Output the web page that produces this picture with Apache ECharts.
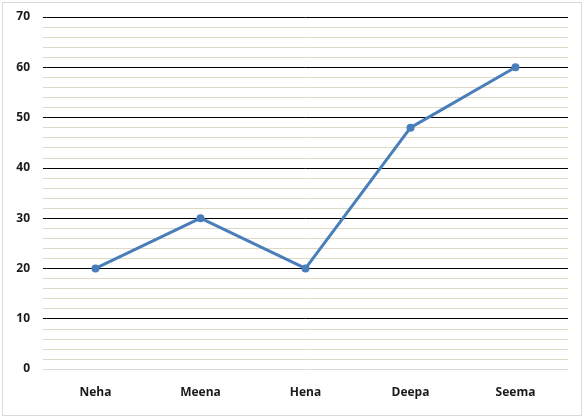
<!DOCTYPE html>
<html><head><meta charset="utf-8">
<script src="https://cdn.jsdelivr.net/npm/echarts@6/dist/echarts.min.js"></script>
<style>html,body{margin:0;padding:0;background:#fff}#c{width:585px;height:419px}</style>
</head><body><div id="c"></div>
<script>
const categories = ['Neha', 'Meena', 'Hena', 'Deepa', 'Seema'];
const values = [20, 30, 20, 48, 60];
const yMin = 0, yMax = 70, yInterval = 10;

const chart = echarts.init(document.getElementById('c'), null, {renderer: 'canvas'});
const font = '"Open Sans", "DejaVu Sans", sans-serif';
chart.setOption({
  animation: false,
  graphic: [{type: 'rect', shape: {x: 2.5, y: 2.5, width: 579, height: 413}, style: {fill: 'none', stroke: '#d9d9d9', lineWidth: 1}, silent: true, z: -1}],
  grid: {left: 43, right: 17, top: 17, bottom: 50},
  xAxis: {
    type: 'category', data: categories, boundaryGap: true,
    axisLine: {show: false}, axisTick: {show: false},
    axisLabel: {color: '#1a1a1a', fontWeight: 'bold', fontSize: 12, fontFamily: font, margin: 18}
  },
  yAxis: {
    type: 'value', min: yMin, max: yMax, interval: yInterval,
    axisLine: {show: false}, axisTick: {show: false},
    axisLabel: {color: '#1a1a1a', fontWeight: 'bold', fontSize: 12, fontFamily: font, margin: 13},
    splitLine: {show: true, lineStyle: {color: ['#d9d9d9', '#000', '#000', '#000', '#000', '#000', '#000', '#000'], width: 1}},
    minorTick: {show: false, splitNumber: 5},
    minorSplitLine: {show: true, lineStyle: {color: '#ddd9c3', width: 1}}
  },
  series: [{
    type: 'line', data: values,
    symbol: 'circle', symbolSize: 8,
    lineStyle: {color: '#4a7ebb', width: 3},
    itemStyle: {color: '#4a7ebb'}
  }]
});
</script></body></html>
